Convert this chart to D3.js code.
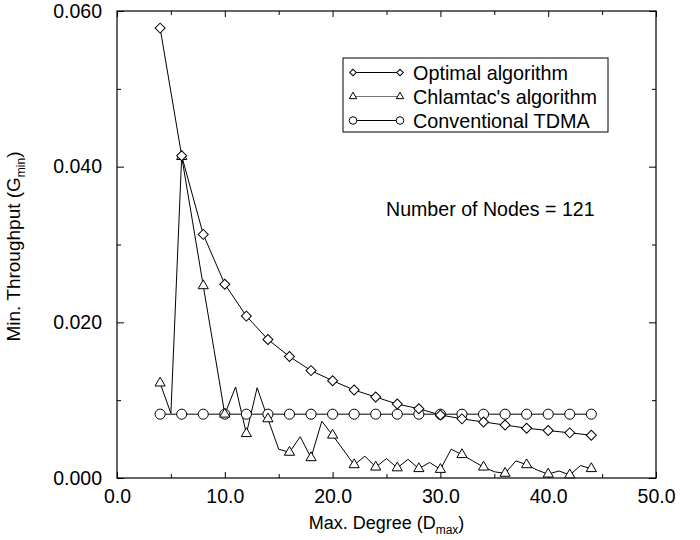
<!DOCTYPE html>
<html lang="en">

<head>
    <title>Min. Throughput vs Max. Degree</title>
    <meta charset="utf-8">
    <script src="https://d3js.org/d3.v7.min.js"></script>
    <style>
        body { margin: 0; background: #fff; }
        svg text { font-family: "Liberation Sans", Arial, Helvetica, sans-serif; fill: #000; }
    </style>
</head>

<body>
    <div id="container"></div>
    <script>
        // Data
        const degrees = [4, 6, 8, 10, 12, 14, 16, 18, 20, 22, 24, 26, 28, 30, 32, 34, 36, 38, 40, 42, 44];
        const optimal = [0.0578, 0.0414, 0.0313, 0.0249, 0.0208, 0.0178, 0.0156, 0.0138, 0.0125, 0.0113, 0.0104,
            0.0095, 0.0089, 0.0081, 0.0076, 0.0072, 0.0068, 0.0064, 0.0061, 0.0058, 0.0055];
        const tdma = [0.0082, 0.0082, 0.0082, 0.0082, 0.0082, 0.0082, 0.0082, 0.0082, 0.0082, 0.0082, 0.0082,
            0.0082, 0.0082, 0.0082, 0.0082, 0.0082, 0.0082, 0.0082, 0.0082, 0.0082, 0.0082];
        const chlamtacDegrees = [4, 5, 6, 7, 8, 9, 10, 11, 12, 13, 14, 15, 16, 17, 18, 19, 20, 21, 22, 23, 24,
            25, 26, 27, 28, 29, 30, 31, 32, 33, 34, 35, 36, 37, 38, 39, 40, 41, 42, 43, 44];
        const chlamtac = [0.0122, 0.0083, 0.0413, 0.0330, 0.0247, 0.0165, 0.0082, 0.0117, 0.0057, 0.0116, 0.0076,
            0.0037, 0.0033, 0.0053, 0.0026, 0.0073, 0.0055, 0.0036, 0.0017, 0.0028, 0.0014,
            0.0025, 0.0013, 0.0024, 0.0012, 0.0020, 0.0011, 0.0037, 0.0030, 0.0022, 0.0014,
            0.0008, 0.0006, 0.0022, 0.0017, 0.0010, 0.0005, 0.0009, 0.0004, 0.0016, 0.0012];

        const xTicks = [0, 10, 20, 30, 40, 50];
        const xMinor = [5, 15, 25, 35, 45];
        const yTicks = [0, 0.02, 0.04, 0.06];
        const yMinor = [0.01, 0.03, 0.05];

        const seriesNames = ["Optimal algorithm", "Chlamtac's algorithm", "Conventional TDMA"];

        // Chart dimensions
        const width = 700;
        const height = 540;
        const margin = { top: 11, right: 44, bottom: 62, left: 117 };

        const svg = d3.select("#container")
            .append("svg")
            .attr("width", width)
            .attr("height", height);

        const x = d3.scaleLinear()
            .domain([0, 50])
            .range([margin.left, width - margin.right]);

        const y = d3.scaleLinear()
            .domain([0, 0.06])
            .range([height - margin.bottom, margin.top]);

        // Axes, ticks pointing inward on all four sides
        const fmtX = d3.format(".1f");
        const fmtY = d3.format(".3f");

        svg.append("g")
            .attr("transform", `translate(0,${y(0)})`)
            .call(d3.axisBottom(x).tickValues(xTicks).tickFormat(fmtX).tickSize(-6).tickPadding(11));
        svg.append("g")
            .attr("transform", `translate(0,${y(0)})`)
            .call(d3.axisBottom(x).tickValues(xMinor).tickFormat("").tickSize(-4));
        svg.append("g")
            .attr("transform", `translate(0,${y(0.06)})`)
            .call(d3.axisTop(x).tickValues(xTicks).tickFormat("").tickSize(-6));
        svg.append("g")
            .attr("transform", `translate(0,${y(0.06)})`)
            .call(d3.axisTop(x).tickValues(xMinor).tickFormat("").tickSize(-4));

        svg.append("g")
            .attr("transform", `translate(${x(0)},0)`)
            .call(d3.axisLeft(y).tickValues(yTicks).tickFormat(fmtY).tickSize(-7).tickPadding(15));
        svg.append("g")
            .attr("transform", `translate(${x(0)},0)`)
            .call(d3.axisLeft(y).tickValues(yMinor).tickFormat("").tickSize(-4));
        svg.append("g")
            .attr("transform", `translate(${x(50)},0)`)
            .call(d3.axisRight(y).tickValues(yTicks).tickFormat("").tickSize(-7));
        svg.append("g")
            .attr("transform", `translate(${x(50)},0)`)
            .call(d3.axisRight(y).tickValues(yMinor).tickFormat("").tickSize(-4));

        svg.selectAll(".domain").remove();
        svg.selectAll(".tick line").attr("stroke", "#000");
        svg.selectAll(".tick text").attr("font-size", 19.5).attr("fill", "#000");

        // Frame
        svg.append("rect")
            .attr("x", x(0))
            .attr("y", y(0.06))
            .attr("width", x(50) - x(0))
            .attr("height", y(0) - y(0.06))
            .attr("fill", "none")
            .attr("stroke", "#000")
            .attr("stroke-width", 1.2);

        // Axis titles
        const xTitle = svg.append("text")
            .attr("x", (x(0) + x(50)) / 2)
            .attr("y", 529)
            .attr("text-anchor", "middle")
            .attr("font-size", 18);
        xTitle.append("tspan").text("Max. Degree (D");
        xTitle.append("tspan").attr("font-size", 12).attr("dy", 5).text("max");
        xTitle.append("tspan").attr("dy", -5).text(")");

        const yTitle = svg.append("text")
            .attr("transform", `translate(20,${(y(0) + y(0.06)) / 2 + 2}) rotate(-90)`)
            .attr("text-anchor", "middle")
            .attr("font-size", 19);
        yTitle.append("tspan").text("Min. Throughput (G");
        yTitle.append("tspan").attr("font-size", 12).attr("dy", 5).text("min");
        yTitle.append("tspan").attr("dy", -5).text(")");

        // Series
        const optData = degrees.map((d, i) => ({ x: d, y: optimal[i] }));
        const tdmaData = degrees.map((d, i) => ({ x: d, y: tdma[i] }));
        const chlData = chlamtacDegrees.map((d, i) => ({ x: d, y: chlamtac[i] }));

        const line = d3.line().x(d => x(d.x)).y(d => y(d.y));

        [tdmaData, chlData, optData].forEach(data => {
            svg.append("path")
                .datum(data)
                .attr("d", line)
                .attr("fill", "none")
                .attr("stroke", "#000")
                .attr("stroke-width", 1);
        });

        const diamond = d3.symbol(d3.symbolSquare, 50);
        const triangle = d3.symbol(d3.symbolTriangle, 45);
        const circle = d3.symbol(d3.symbolCircle, 80);

        svg.selectAll(".tdma")
            .data(tdmaData)
            .enter().append("path")
            .attr("class", "tdma")
            .attr("d", circle)
            .attr("transform", d => `translate(${x(d.x)},${y(d.y)})`)
            .attr("fill", "#fff")
            .attr("stroke", "#000");

        svg.selectAll(".chl")
            .data(chlData.filter(d => d.x % 2 === 0))
            .enter().append("path")
            .attr("class", "chl")
            .attr("d", triangle)
            .attr("transform", d => `translate(${x(d.x)},${y(d.y)})`)
            .attr("fill", "#fff")
            .attr("stroke", "#000");

        svg.selectAll(".opt")
            .data(optData)
            .enter().append("path")
            .attr("class", "opt")
            .attr("d", diamond)
            .attr("transform", d => `translate(${x(d.x)},${y(d.y)}) rotate(45)`)
            .attr("fill", "#fff")
            .attr("stroke", "#000");

        // Legend
        const legend = svg.append("g").attr("transform", "translate(343,58)");
        legend.append("rect")
            .attr("width", 265)
            .attr("height", 74)
            .attr("fill", "#fff")
            .attr("stroke", "#000");

        const legendSymbols = [
            { sym: d3.symbol(d3.symbolSquare, 22), rot: 45 },
            { sym: d3.symbol(d3.symbolTriangle, 24), rot: 0 },
            { sym: d3.symbol(d3.symbolCircle, 45), rot: 0 }
        ];
        const lineColors = ["#000", "#777", "#000"];

        seriesNames.forEach((name, i) => {
            const row = legend.append("g").attr("transform", `translate(0,${14.5 + i * 24})`);
            row.append("line")
                .attr("x1", 10).attr("x2", 57)
                .attr("stroke", lineColors[i]);
            [10, 57].forEach(cx => {
                row.append("path")
                    .attr("d", legendSymbols[i].sym)
                    .attr("transform", `translate(${cx},0) rotate(${legendSymbols[i].rot})`)
                    .attr("fill", "#fff")
                    .attr("stroke", "#000");
            });
            row.append("text")
                .attr("x", 70)
                .attr("y", 7)
                .attr("font-size", 19.8)
                .text(name);
        });

        // Annotation
        svg.append("text")
            .attr("x", 386)
            .attr("y", 216)
            .attr("font-size", 19.6)
            .text("Number of Nodes = 121");
    </script>
</body>

</html>
